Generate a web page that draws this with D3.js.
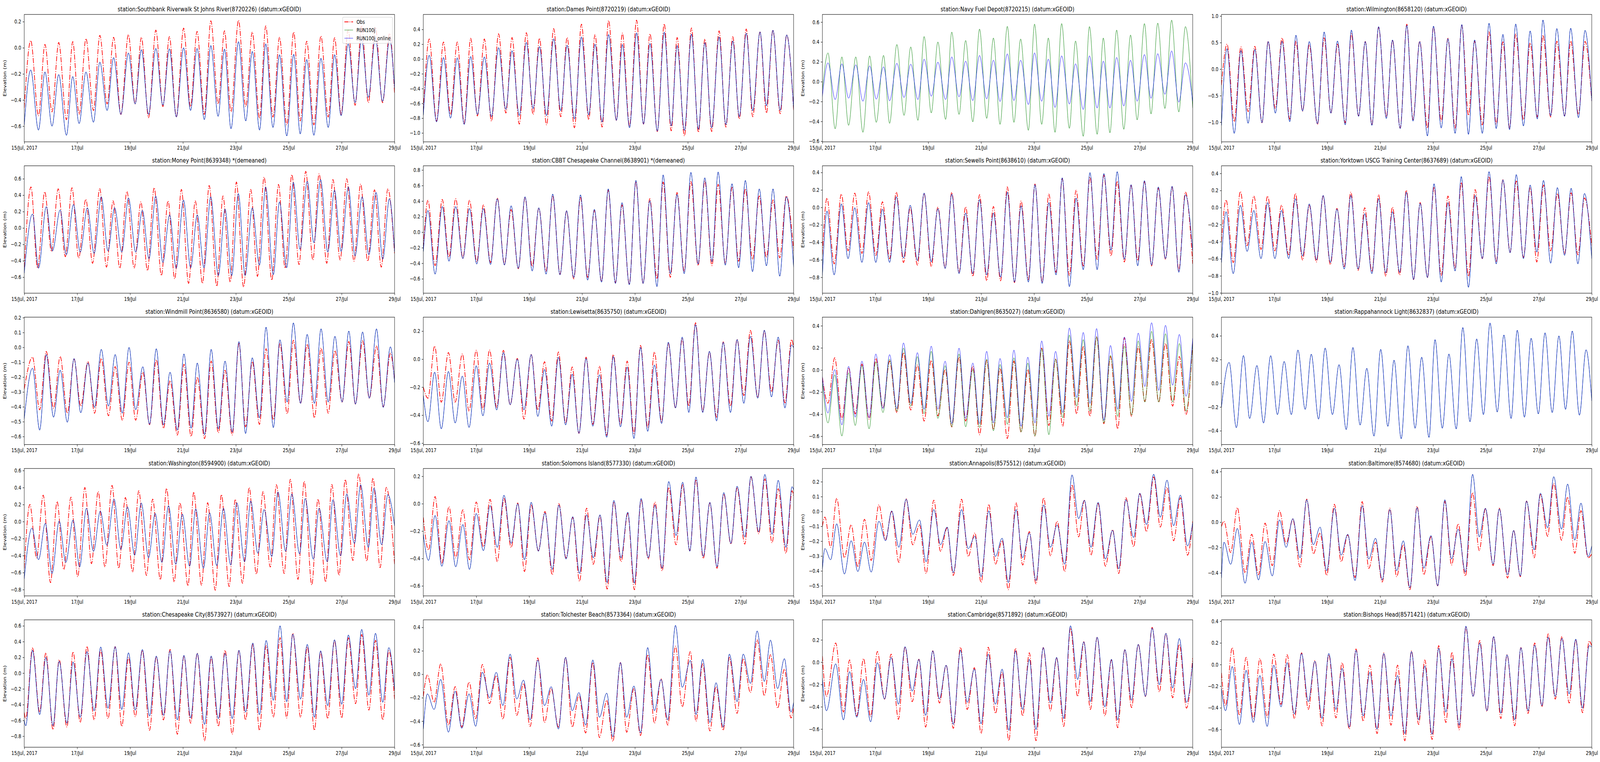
<!DOCTYPE html>
<html>
<head>
<meta charset="utf-8">
<title>Station elevation, 15-29 Jul 2017</title>
<script src="https://cdnjs.cloudflare.com/ajax/libs/d3/7.8.5/d3.min.js"></script>
<style>
  html, body { margin: 0; padding: 0; background: #fff; overflow: hidden; }
  svg { display: block; }
  text { font-family: "DejaVu Sans", sans-serif; }
</style>
</head>
<body>
<script>
var tSouthbank = [0,5.9,12.9,18.8,25.2,31.3,38.3,44.0,49.8,56.0,62.8,68.6,75.2,81.1,87.7,94.5,100.6,106.3,112.8,119.4,125.8,131.7,138.0,144.6,150.9,156.8,163.4,169.3,175.9,181.7,187.6,194.4,201.0,206.9,213.5,219.1,225.7,231.6,238.2,244.5,250.4,256.3,262.8,269.2,275.8,281.6,287.5,293.9,300.2,306.1,312.2,318.6,325.1,331.5,336];
var southbankObs = [-0.46,0.055,-0.52,0.025,-0.49,0.04,-0.55,0.047,-0.51,0.07,-0.48,0.095,-0.43,0.08,-0.51,0.10,-0.43,0.08,-0.535,0.135,-0.45,0.085,-0.53,0.15,-0.45,0.125,-0.51,0.206,-0.43,0.13,-0.49,0.21,-0.45,0.12,-0.54,0.167,-0.53,0.08,-0.59,0.12,-0.56,0.05,-0.59,0.09,-0.53,0.077,-0.51,0.137,-0.44,0.17,-0.42,0.157,-0.42,0.11,-0.35];
var southbankRun = [-0.59,-0.17,-0.63,-0.185,-0.60,-0.205,-0.67,-0.22,-0.58,-0.185,-0.57,-0.11,-0.48,-0.075,-0.51,-0.04,-0.43,-0.015,-0.51,-0.005,-0.44,-0.008,-0.53,0.0,-0.48,-0.005,-0.55,0.017,-0.525,-0.01,-0.62,0.047,-0.56,-0.028,-0.63,0.03,-0.61,-0.053,-0.675,-0.05,-0.66,-0.09,-0.67,-0.08,-0.61,-0.053,-0.52,0.03,-0.42,0.067,-0.38,0.077,-0.41,0.067,-0.31];

var tDames = [0,5.4,12.0,18.3,24.7,30.8,37.1,43.0,49.1,55.4,61.8,68.3,74.9,80.5,87.1,93.5,99.6,105.4,111.8,118.3,124.7,130.5,137.1,143.5,150.1,155.8,162.2,168.1,175.2,180.6,187.1,193.5,199.8,205.7,212.3,218.6,224.9,230.3,236.9,243.3,249.6,255.5,261.6,268.4,274.5,280.8,286.7,293.0,298.9,305.5,311.3,317.2,323.8,329.7,336];
var damesObs = [-0.71,0.27,-0.84,0.23,-0.75,0.23,-0.87,0.28,-0.77,0.27,-0.84,0.34,-0.73,0.29,-0.88,0.355,-0.75,0.28,-0.89,0.41,-0.78,0.29,-0.93,0.47,-0.82,0.33,-0.92,0.52,-0.83,0.35,-0.91,0.525,-0.88,0.34,-0.98,0.475,-0.97,0.29,-1.04,0.42,-0.99,0.27,-0.98,0.38,-0.92,0.30,-0.81,0.405,-0.78,0.365,-0.73,0.39,-0.74,0.325,-0.69];
var damesRun = [-0.76,0.05,-0.85,0.02,-0.80,0.015,-0.885,0.033,-0.75,0.028,-0.78,0.153,-0.68,0.112,-0.765,0.225,-0.67,0.168,-0.765,0.273,-0.70,0.186,-0.81,0.298,-0.756,0.20,-0.853,0.33,-0.83,0.196,-0.93,0.353,-0.88,0.209,-0.975,0.363,-0.905,0.182,-0.967,0.337,-0.95,0.221,-0.93,0.298,-0.888,0.244,-0.78,0.349,-0.70,0.367,-0.633,0.39,-0.695,0.326,-0.68];

var tNavy = [0,5.1,11.6,17.7,23.8,30.3,36.8,42.9,48.9,55.5,61.0,67.6,74.1,80.2,86.7,92.3,98.8,104.8,111.8,117.4,124.0,130.0,136.5,142.6,149.1,155.2,161.2,167.8,173.8,179.9,186.9,192.5,199.0,205.0,211.1,217.1,224.1,229.7,236.7,242.3,249.3,254.9,260.9,267.0,273.5,279.6,285.6,292.2,298.2,304.3,310.8,316.9,323.4,329.4,336];
var navyRun = [-0.09,0.29,-0.475,0.25,-0.44,0.25,-0.51,0.26,-0.41,0.265,-0.42,0.375,-0.34,0.35,-0.39,0.455,-0.315,0.40,-0.38,0.50,-0.33,0.415,-0.405,0.53,-0.37,0.44,-0.43,0.557,-0.41,0.43,-0.49,0.58,-0.43,0.44,-0.51,0.585,-0.47,0.41,-0.55,0.555,-0.53,0.44,-0.515,0.52,-0.48,0.47,-0.385,0.585,-0.325,0.59,-0.27,0.62,-0.305,0.555,-0.265];
var navyOnline = [-0.15,0.19,-0.18,0.18,-0.167,0.17,-0.197,0.16,-0.176,0.15,-0.193,0.185,-0.16,0.177,-0.18,0.227,-0.147,0.197,-0.18,0.25,-0.153,0.207,-0.19,0.264,-0.173,0.216,-0.20,0.28,-0.19,0.216,-0.23,0.29,-0.197,0.227,-0.26,0.26,-0.225,0.18,-0.28,0.26,-0.265,0.207,-0.265,0.244,-0.245,0.216,-0.197,0.273,-0.167,0.282,-0.127,0.31,-0.206,0.19,-0.2];

var tWilm = [0,5.1,11.6,17.7,24.2,30.3,36.8,42.4,48.9,55.0,62.0,67.6,73.6,79.7,87.1,93.2,99.3,105.3,112.3,117.9,124.4,130.5,136.5,142.6,149.6,155.2,162.2,168.2,173.8,179.9,186.9,192.4,199.4,205.5,212.0,218.1,224.1,229.7,236.7,242.8,249.3,255.4,261.4,267.0,274.0,280.1,286.6,291.7,298.7,304.3,311.3,316.9,323.9,329.9,336];
var wilmObs = [-0.3,0.47,-0.99,0.42,-0.80,0.43,-1.01,0.525,-0.74,0.59,-0.94,0.525,-0.79,0.46,-1.04,0.59,-0.83,0.47,-1.01,0.667,-0.88,0.52,-1.05,0.79,-0.90,0.545,-1.11,0.845,-0.95,0.525,-1.11,0.80,-0.98,0.58,-1.11,0.827,-0.87,0.525,-1.05,0.70,-1.03,0.515,-1.11,0.66,-0.95,0.495,-0.90,0.64,-0.90,0.525,-0.88,0.53,-0.85,0.52,-0.6];
var wilmRun = [-1.06,0.385,-1.21,0.35,-1.02,0.373,-1.01,0.52,-0.83,0.525,-0.99,0.64,-0.79,0.52,-1.03,0.70,-0.83,0.53,-1.05,0.736,-0.89,0.52,-1.06,0.80,-0.93,0.55,-1.12,0.827,-0.98,0.52,-1.26,0.81,-1.11,0.574,-1.21,0.84,-1.23,0.55,-1.21,0.864,-1.12,0.655,-1.14,0.85,-1.07,0.72,-0.94,0.925,-0.88,0.765,-0.89,0.77,-0.915,0.73,-0.6];

var tMoneyObs = [0,6.1,12.1,18.6,24.7,30.8,37.3,43.3,49.4,55.9,62.0,68.5,74.6,80.6,86.7,93.2,99.7,105.8,111.8,117.9,124.4,130.5,136.5,142.6,149.1,155.2,161.7,167.8,174.7,180.3,186.9,192.5,199.0,205.5,211.6,217.6,224.6,230.7,236.7,242.8,249.3,255.4,261.9,267.5,274.5,280.1,286.6,292.6,299.2,305.2,311.7,317.8,323.9,329.9,336];
var moneyObs = [-0.48,0.50,-0.49,0.44,-0.286,0.477,-0.35,0.49,-0.366,0.35,-0.43,0.48,-0.477,0.33,-0.49,0.445,-0.49,0.318,-0.52,0.49,-0.58,0.33,-0.62,0.47,-0.675,0.33,-0.675,0.517,-0.71,0.39,-0.66,0.56,-0.72,0.47,-0.59,0.62,-0.636,0.53,-0.49,0.65,-0.445,0.69,-0.39,0.66,-0.43,0.59,-0.39,0.60,-0.405,0.535,-0.405,0.465,-0.477,0.477,-0.31];
var tMoneyRun = [0,7.5,13.0,20.0,25.6,32.6,38.2,44.7,50.8,57.3,63.4,69.9,76.0,82.0,88.5,94.6,101.1,107.2,113.2,119.3,125.8,131.9,137.9,144.5,151.0,157.0,163.1,169.2,176.1,182.2,188.3,194.3,200.4,206.9,213.4,219.0,226.0,231.6,238.1,244.2,250.2,256.8,262.8,268.9,275.4,281.5,287.5,294.1,300.1,306.6,312.7,319.2,325.3,331.3,336];
var moneyRun = [-0.55,0.17,-0.49,0.26,-0.28,0.22,-0.326,0.286,-0.294,0.246,-0.31,0.38,-0.28,0.246,-0.294,0.366,-0.294,0.215,-0.374,0.39,-0.42,0.16,-0.49,0.34,-0.485,0.16,-0.485,0.38,-0.58,0.23,-0.58,0.42,-0.58,0.246,-0.453,0.50,-0.57,0.318,-0.485,0.556,-0.26,0.57,-0.18,0.59,-0.294,0.46,-0.286,0.50,-0.34,0.38,-0.326,0.434,-0.38,0.357,-0.29];

// lower bay stations share nearly the same tide times
var tBay = [0,4.2,10.7,17.2,23.3,29.4,35.9,41.9,48.5,54.5,61.0,67.1,73.6,79.7,86.2,92.3,98.8,104.8,111.4,117.4,124.0,130.0,136.5,142.6,149.1,155.2,161.7,167.8,174.3,180.3,186.9,192.9,199.4,205.5,212.0,217.6,224.1,230.2,236.7,242.8,249.3,255.4,261.9,267.5,274.0,280.1,286.1,292.2,298.7,304.8,311.3,317.3,323.4,329.4,336];
var cbbtObs = [-0.2,0.41,-0.43,0.42,-0.32,0.43,-0.33,0.41,-0.38,0.35,-0.39,0.44,-0.41,0.29,-0.47,0.445,-0.44,0.31,-0.50,0.47,-0.54,0.27,-0.60,0.445,-0.58,0.28,-0.634,0.54,-0.65,0.35,-0.67,0.65,-0.66,0.43,-0.60,0.645,-0.58,0.51,-0.50,0.65,-0.43,0.66,-0.43,0.615,-0.40,0.575,-0.374,0.557,-0.35,0.465,-0.324,0.414,-0.33,0.465,-0.24];
var cbbtRun = [-0.25,0.28,-0.54,0.33,-0.374,0.33,-0.34,0.305,-0.41,0.305,-0.416,0.43,-0.424,0.34,-0.466,0.456,-0.50,0.314,-0.54,0.49,-0.55,0.277,-0.584,0.48,-0.617,0.294,-0.643,0.557,-0.66,0.38,-0.676,0.666,-0.66,0.406,-0.70,0.737,-0.534,0.485,-0.534,0.77,-0.41,0.70,-0.38,0.775,-0.424,0.624,-0.458,0.666,-0.508,0.557,-0.433,0.557,-0.567,0.456,-0.45];
var sewellsObs = [-0.54,0.107,-0.646,0.152,-0.497,0.163,-0.527,0.178,-0.549,0.063,-0.587,0.175,-0.63,-0.004,-0.66,0.16,-0.676,0.003,-0.69,0.172,-0.743,0.006,-0.79,0.145,-0.84,0.01,-0.84,0.234,-0.86,0.073,-0.825,0.267,-0.855,0.152,-0.743,0.33,-0.78,0.197,-0.669,0.346,-0.594,0.368,-0.557,0.30,-0.624,0.25,-0.609,0.294,-0.669,0.22,-0.594,0.231,-0.72,0.175,-0.646];
var sewellsRun = [-0.78,-0.042,-0.773,0.04,-0.587,-0.004,-0.63,0.055,-0.63,-0.02,-0.63,0.122,-0.58,0.025,-0.609,0.164,-0.624,-0.016,-0.70,0.152,-0.758,-0.064,-0.758,0.09,-0.773,-0.064,-0.80,0.175,-0.855,0.018,-0.855,0.26,-0.87,0.055,-0.773,0.339,-0.907,0.107,-0.713,0.398,-0.713,0.387,-0.49,0.409,-0.594,0.26,-0.669,0.306,-0.66,0.234,-0.587,0.242,-0.743,0.145,-0.497];
var yorktownObs = [-0.4,0.089,-0.644,0.188,-0.446,0.134,-0.49,0.134,-0.507,0.027,-0.553,0.165,-0.614,0.027,-0.637,0.134,-0.667,-0.011,-0.69,0.18,-0.736,-0.003,-0.751,0.15,-0.805,0.005,-0.79,0.203,-0.843,0.058,-0.82,0.241,-0.797,0.134,-0.713,0.295,-0.805,0.21,-0.598,0.363,-0.637,0.325,-0.522,0.31,-0.583,0.234,-0.637,0.264,-0.507,0.165,-0.537,0.172,-0.553,0.111,-0.446];
var yorktownRun = [-0.644,-0.049,-0.774,0.027,-0.514,-0.034,-0.598,0.058,-0.598,-0.034,-0.598,0.104,-0.568,0.043,-0.614,0.142,-0.644,-0.018,-0.72,0.142,-0.72,-0.072,-0.774,0.104,-0.766,-0.049,-0.759,0.18,-0.843,0.05,-0.82,0.279,-0.873,0.058,-0.743,0.363,-0.934,0.142,-0.598,0.421,-0.66,0.325,-0.53,0.386,-0.598,0.264,-0.522,0.318,-0.652,0.234,-0.56,0.226,-0.66,0.165,-0.598];

var tWindmill = [0,7.5,14.0,20.0,26.6,32.6,39.1,45.2,51.3,57.8,63.8,69.9,76.4,82.5,89.0,95.1,101.1,107.6,113.7,119.8,126.3,132.3,138.9,144.9,151.4,157.0,163.6,169.6,176.1,182.2,188.7,194.8,200.8,206.9,213.4,219.4,226.0,232.0,238.6,244.2,250.7,256.7,263.3,269.3,275.8,281.9,288.4,294.5,300.5,307.0,313.1,319.6,325.7,332.2,336];
var windmillObs = [-0.28,-0.066,-0.42,-0.028,-0.41,-0.061,-0.443,-0.079,-0.395,-0.096,-0.443,-0.075,-0.46,-0.13,-0.49,-0.10,-0.49,-0.167,-0.52,-0.083,-0.544,-0.224,-0.59,-0.114,-0.60,-0.20,-0.614,-0.092,-0.575,-0.154,-0.59,0.026,-0.535,-0.096,-0.518,-0.009,-0.487,0.026,-0.447,0.048,-0.377,0.022,-0.474,-0.004,-0.443,-0.022,-0.368,0.039,-0.382,0.044,-0.342,0.009,-0.40,-0.04,-0.22];
var windmillRun = [-0.48,-0.14,-0.557,-0.048,-0.47,-0.153,-0.504,-0.075,-0.44,-0.105,-0.404,-0.013,-0.395,-0.048,-0.443,0.0,-0.42,-0.13,-0.518,-0.009,-0.522,-0.167,-0.557,-0.044,-0.544,-0.105,-0.588,-0.013,-0.548,-0.092,-0.57,0.039,-0.58,-0.07,-0.474,0.136,-0.54,0.051,-0.368,0.165,-0.377,0.088,-0.377,0.125,-0.368,0.075,-0.368,0.11,-0.382,0.104,-0.342,0.125,-0.404,0.004,-0.237];

var tLewisetta = [0,4.2,10.3,16.3,22.8,28.9,35.4,41.5,48.0,54.1,60.1,66.6,72.7,78.8,85.3,91.3,97.9,103.9,110.0,116.5,122.6,129.1,135.1,141.2,147.7,153.8,159.8,166.4,172.4,178.9,185.0,191.1,197.1,203.6,209.7,216.2,222.3,228.8,234.9,240.9,247.0,253.5,259.6,266.1,272.1,278.7,284.7,290.8,296.8,303.4,309.4,315.9,322.0,328.1,334.1,336];
var lewisettaObs = [-0.2,-0.279,0.093,-0.307,0.047,-0.307,0.037,-0.372,0.063,-0.358,0.065,-0.344,0.063,-0.326,0.005,-0.428,0.033,-0.363,-0.019,-0.442,0.051,-0.456,-0.056,-0.53,0.014,-0.465,-0.051,-0.544,0.033,-0.465,-0.014,-0.53,0.098,-0.488,0.051,-0.447,0.112,-0.349,0.144,-0.335,0.26,-0.372,0.051,-0.414,0.123,-0.335,0.14,-0.26,0.205,-0.274,0.20,-0.233,0.135,-0.312,0.14,0.08];
var lewisettaRun = [-0.26,-0.447,-0.093,-0.498,-0.088,-0.456,-0.121,-0.488,-0.047,-0.405,-0.028,-0.363,0.047,-0.326,0.0,-0.363,0.033,-0.409,-0.074,-0.479,0.014,-0.47,-0.107,-0.53,0.005,-0.479,-0.112,-0.558,0.019,-0.484,-0.056,-0.567,0.084,-0.516,-0.042,-0.46,0.121,-0.349,0.158,-0.381,0.247,-0.381,0.056,-0.442,0.121,-0.381,0.14,-0.316,0.163,-0.279,0.207,-0.27,0.158,-0.349,0.102,0.08];

var tDahlgren = [0,5.1,11.2,17.7,23.8,29.8,35.9,42.4,48.5,55.0,61.0,67.6,73.6,80.2,86.2,92.3,98.8,104.8,111.4,117.4,124.0,130.0,136.5,142.6,149.1,155.2,161.2,167.8,173.8,180.3,186.4,192.9,199.0,205.5,211.6,218.1,224.1,230.7,236.7,242.8,248.8,255.4,261.4,268.0,274.0,280.5,286.6,292.6,298.7,305.2,311.3,317.8,323.9,329.9,336];
var dahlgrenObs = [-0.067,-0.30,0.11,-0.445,0.02,-0.397,0.053,-0.445,0.104,-0.344,0.08,-0.386,0.157,-0.362,0.045,-0.462,0.086,-0.415,0.004,-0.515,0.116,-0.462,0.033,-0.586,0.086,-0.539,0.015,-0.62,0.08,-0.562,0.004,-0.598,0.198,-0.503,0.098,-0.51,0.263,-0.397,0.21,-0.42,0.30,-0.486,0.121,-0.533,0.292,-0.42,0.21,-0.285,0.275,-0.291,0.24,-0.327,0.121,-0.403,0.24];
var dahlgrenRun = [-0.1,-0.48,-0.044,-0.598,-0.026,-0.503,0.039,-0.533,0.074,-0.386,0.098,-0.374,0.198,-0.327,0.121,-0.397,0.169,-0.439,0.039,-0.515,0.145,-0.515,0.004,-0.521,0.098,-0.551,0.05,-0.492,0.11,-0.562,0.063,-0.598,0.192,-0.586,0.098,-0.433,0.316,-0.327,0.275,-0.374,0.30,-0.48,0.133,-0.42,0.216,-0.409,0.263,-0.291,0.35,-0.291,0.328,-0.291,0.24,-0.374,0.25];
var dahlgrenOnline = [-0.06,-0.39,0.004,-0.498,0.033,-0.427,0.08,-0.433,0.145,-0.35,0.139,-0.35,0.245,-0.303,0.157,-0.356,0.216,-0.356,0.08,-0.486,0.198,-0.439,0.063,-0.486,0.169,-0.48,0.104,-0.433,0.18,-0.51,0.116,-0.48,0.263,-0.42,0.169,-0.386,0.38,-0.25,0.34,-0.303,0.375,-0.456,0.222,-0.356,0.298,-0.285,0.334,-0.15,0.428,-0.185,0.404,-0.138,0.322,-0.238,0.287];

var tRappahannock = [0,7.0,13.5,20.0,25.6,32.2,38.2,44.7,50.8,56.9,63.4,69.4,76.0,81.5,88.1,94.1,100.7,106.7,113.2,119.3,125.8,131.9,138.4,144.5,151.0,156.6,163.1,169.2,175.7,181.7,188.3,193.8,200.4,206.4,213.0,219.0,225.5,231.6,237.7,243.7,250.2,256.3,262.8,268.4,274.9,281.0,287.5,293.6,300.1,306.2,312.2,318.3,324.8,330.8,336];
var rappahannockRun = [-0.2,0.176,-0.374,0.234,-0.297,0.15,-0.335,0.233,-0.264,0.184,-0.264,0.28,-0.22,0.245,-0.302,0.297,-0.264,0.157,-0.39,0.302,-0.352,0.126,-0.445,0.286,-0.363,0.195,-0.467,0.316,-0.379,0.22,-0.456,0.368,-0.379,0.247,-0.385,0.47,-0.324,0.374,-0.264,0.508,-0.242,0.407,-0.297,0.447,-0.286,0.379,-0.258,0.425,-0.247,0.399,-0.22,0.44,-0.269,0.282,-0.148];

var tWashObs = [0,5.1,11.2,17.2,23.8,29.8,35.9,42.4,48.5,55.0,61.0,67.1,73.2,79.7,85.7,91.8,98.3,103.9,110.9,116.5,123.5,129.1,136.1,141.2,148.6,153.8,160.8,166.4,173.3,178.9,185.9,191.5,198.0,204.1,210.6,216.7,223.2,228.8,235.8,241.4,248.4,254.0,260.9,266.5,273.5,279.1,285.6,291.2,298.2,303.4,310.8,316.4,322.9,328.5,336];
var washObs = [-0.55,0.2,-0.426,0.31,-0.718,0.236,-0.564,0.287,-0.649,0.40,-0.495,0.353,-0.534,0.425,-0.549,0.282,-0.595,0.363,-0.633,0.264,-0.684,0.39,-0.71,0.221,-0.756,0.347,-0.748,0.221,-0.807,0.317,-0.764,0.261,-0.725,0.40,-0.618,0.353,-0.534,0.433,-0.61,0.497,-0.68,0.474,-0.745,0.264,-0.71,0.436,-0.633,0.494,-0.457,0.563,-0.465,0.512,-0.541,0.402,-0.5];
var tWashRun = [0,7.0,13.0,19.1,25.2,31.7,37.7,44.3,50.3,56.4,62.9,69.0,75.0,81.5,87.6,93.7,100.2,106.2,112.8,118.8,124.9,130.9,137.5,143.5,150.0,155.6,162.6,168.2,174.7,180.8,187.3,192.9,199.9,205.5,212.0,217.6,224.6,230.2,237.2,242.8,249.8,254.9,262.3,267.5,274.9,280.1,287.0,292.6,299.6,305.2,312.2,317.3,324.3,329.9,336];
var washRun = [-0.672,-0.077,-0.449,-0.02,-0.61,0.006,-0.48,0.018,-0.534,0.156,-0.35,0.123,-0.28,0.264,-0.327,0.172,-0.396,0.218,-0.426,0.095,-0.48,0.187,-0.503,0.087,-0.526,0.149,-0.549,0.103,-0.518,0.156,-0.511,0.221,-0.472,0.241,-0.373,0.141,-0.411,0.348,-0.35,0.325,-0.38,0.271,-0.442,0.156,-0.472,0.256,-0.403,0.325,-0.258,0.433,-0.304,0.394,-0.273,0.317,-0.05];

var tSolomons = [0,4.7,10.7,16.8,23.3,29.4,35.9,41.9,48.0,54.5,60.6,67.1,73.2,79.7,85.7,91.8,97.9,104.4,110.4,117.0,123.0,129.5,135.6,141.7,148.2,154.2,160.3,166.8,172.9,179.4,185.5,191.5,197.6,204.1,210.2,216.7,222.7,229.3,235.3,241.8,247.4,254.0,260.0,266.5,272.6,279.1,284.7,291.7,297.3,304.3,309.9,316.4,322.0,329.0,334.6,336];
var solomonsObs = [-0.1,-0.338,0.052,-0.433,-0.022,-0.395,-0.045,-0.409,0.012,-0.314,0.031,-0.423,0.038,-0.319,0.005,-0.495,-0.01,-0.343,-0.057,-0.519,0.0,-0.395,-0.1,-0.566,-0.033,-0.442,-0.09,-0.623,0.014,-0.423,-0.071,-0.628,0.029,-0.404,0.012,-0.49,0.119,-0.30,0.138,-0.343,0.176,-0.40,0.005,-0.471,0.071,-0.295,0.114,-0.295,0.195,-0.219,0.181,-0.285,0.109,-0.362,0.095,0.052];
var solomonsRun = [-0.224,-0.414,-0.086,-0.457,-0.124,-0.461,-0.152,-0.48,-0.071,-0.343,-0.014,-0.319,0.062,-0.29,0.0,-0.409,0.01,-0.347,-0.067,-0.48,-0.01,-0.404,-0.095,-0.509,-0.081,-0.395,-0.081,-0.576,0.024,-0.395,-0.062,-0.58,0.038,-0.395,-0.01,-0.471,0.162,-0.233,0.157,-0.347,0.195,-0.385,0.01,-0.461,0.081,-0.29,0.128,-0.243,0.2,-0.205,0.214,-0.224,0.171,-0.319,0.124,0.1];

var tAnnapolis = [0,2.3,7.5,13.0,20.0,26.1,32.2,38.2,44.3,51.3,57.3,62.9,69.4,76.0,82.0,88.1,94.1,101.1,107.2,113.2,118.8,126.3,132.3,138.4,144.0,151.0,157.0,163.1,168.7,175.7,181.7,187.8,193.8,200.8,206.9,213.0,219.9,226.5,232.5,237.7,243.7,250.2,256.8,263.3,268.9,275.4,282.4,288.0,294.1,300.6,306.6,312.7,318.7,324.8,331.3,336];
var annapolisObs = [-0.10,-0.038,-0.241,0.088,-0.311,-0.09,-0.373,-0.053,-0.329,0.044,-0.189,0.0,-0.342,0.085,-0.224,-0.09,-0.417,0.076,-0.268,-0.11,-0.43,0.082,-0.303,-0.145,-0.478,0.048,-0.355,-0.196,-0.526,0.059,-0.36,-0.136,-0.487,0.092,-0.298,-0.066,-0.404,0.18,-0.171,0.075,-0.294,0.053,-0.368,-0.123,-0.417,0.092,-0.237,0.118,-0.136,0.232,-0.105,0.162,-0.197,0.092,-0.294,-0.066];
var annapolisRun = [-0.39,-0.25,-0.325,-0.083,-0.421,-0.197,-0.404,-0.206,-0.408,-0.066,-0.197,0.004,-0.241,0.083,-0.154,-0.057,-0.338,0.013,-0.224,-0.105,-0.412,0.013,-0.25,-0.167,-0.439,0.004,-0.303,-0.18,-0.478,0.013,-0.311,-0.145,-0.465,0.044,-0.241,-0.092,-0.355,0.246,-0.048,0.075,-0.241,0.061,-0.32,-0.127,-0.386,0.079,-0.175,0.123,-0.088,0.25,-0.039,0.211,-0.096,0.11,-0.232,-0.075];

var tBaltimore = [0,2.3,8.4,14.4,21.4,27.5,33.6,39.6,46.1,52.7,58.7,64.8,71.3,77.4,83.4,89.5,95.5,102.5,108.6,114.6,121.2,127.7,133.7,139.8,145.9,152.8,158.9,165.0,171.0,177.5,183.6,190.1,196.2,202.7,208.8,214.8,221.3,227.9,233.9,239.5,246.5,252.1,259.6,265.1,271.2,276.8,283.8,289.4,295.9,301.5,308.5,314.1,320.6,326.2,332.7,336];
var baltimoreObs = [-0.034,0.007,-0.24,0.115,-0.40,-0.096,-0.415,-0.008,-0.343,0.09,-0.168,0.023,-0.353,0.182,-0.25,-0.085,-0.42,0.141,-0.312,-0.10,-0.436,0.162,-0.364,-0.158,-0.472,0.11,-0.43,-0.178,-0.533,0.126,-0.415,-0.116,-0.503,0.164,-0.338,-0.013,-0.425,0.234,-0.224,0.105,-0.343,0.11,-0.441,-0.065,-0.43,0.167,-0.281,0.218,-0.111,0.306,-0.142,0.198,-0.245,0.09,-0.281,-0.25];
var baltimoreRun = [-0.44,-0.158,-0.333,-0.049,-0.482,-0.158,-0.456,-0.152,-0.425,0.018,-0.199,0.028,-0.281,0.177,-0.178,-0.039,-0.384,0.11,-0.26,-0.096,-0.461,0.131,-0.291,-0.127,-0.456,0.10,-0.384,-0.147,-0.518,0.115,-0.364,-0.106,-0.503,0.177,-0.291,-0.055,-0.394,0.378,-0.116,0.11,-0.333,0.105,-0.415,-0.065,-0.425,0.167,-0.219,0.229,-0.044,0.359,-0.055,0.301,-0.142,0.151,-0.271,-0.188];

var tChesCity = [0,1.4,7.5,14.0,19.6,26.1,31.7,38.7,44.3,50.8,56.9,63.4,69.4,76.0,82.5,88.5,94.6,100.7,107.2,113.7,119.8,126.3,132.3,138.9,144.9,151.0,157.0,163.6,169.6,176.1,182.2,188.7,194.8,200.8,207.4,213.4,219.5,226.0,232.1,238.1,243.7,250.7,256.8,263.3,268.9,275.4,281.5,288.0,294.1,300.6,306.2,312.7,318.7,325.3,330.8,336];
var chesCityObs = [-0.5,-0.577,0.319,-0.494,0.258,-0.717,0.17,-0.684,0.27,-0.626,0.34,-0.593,0.29,-0.577,0.336,-0.676,0.2,-0.552,0.29,-0.725,0.208,-0.593,0.30,-0.775,0.217,-0.635,0.253,-0.858,0.2,-0.676,0.29,-0.775,0.283,-0.593,0.365,-0.725,0.349,-0.56,0.45,-0.569,0.506,-0.56,0.332,-0.725,0.266,-0.577,0.415,-0.569,0.448,-0.387,0.489,-0.469,0.415,-0.593,0.283,-0.33];
var chesCityRun = [-0.6,-0.668,0.29,-0.527,0.2,-0.668,0.15,-0.635,0.142,-0.56,0.274,-0.478,0.332,-0.445,0.336,-0.461,0.258,-0.469,0.30,-0.544,0.217,-0.536,0.283,-0.593,0.225,-0.569,0.25,-0.651,0.217,-0.577,0.25,-0.577,0.29,-0.494,0.382,-0.527,0.415,-0.345,0.60,-0.362,0.494,-0.329,0.365,-0.56,0.283,-0.412,0.423,-0.395,0.484,-0.197,0.555,-0.279,0.506,-0.37,0.324,-0.21];

var tTolchester = [0,3.7,9.8,15.8,22.8,28.9,34.9,41.5,47.5,53.6,60.1,66.2,72.2,78.8,84.8,90.9,96.9,103.9,110.0,116.0,122.6,129.1,135.1,141.2,147.3,153.8,159.8,166.4,172.0,178.9,184.5,191.1,197.1,203.6,209.7,215.7,221.8,228.8,234.9,242.3,247.4,253.5,260.0,265.6,272.1,277.7,284.7,290.3,296.8,302.9,309.4,315.0,321.5,327.6,333.6,336];
var tolchesterObs = [-0.189,-0.006,-0.239,0.089,-0.433,-0.106,-0.45,-0.067,-0.378,0.083,-0.25,-0.011,-0.383,0.144,-0.35,-0.078,-0.444,0.139,-0.411,-0.122,-0.45,0.144,-0.45,-0.178,-0.50,0.10,-0.539,-0.222,-0.572,0.10,-0.494,-0.122,-0.522,0.167,-0.417,-0.039,-0.433,0.239,-0.278,0.194,-0.40,0.089,-0.483,-0.106,-0.478,0.144,-0.333,0.133,-0.156,0.294,-0.183,0.167,-0.289,0.044,-0.372,-0.278];
var tolchesterRun = [-0.467,-0.167,-0.30,-0.044,-0.494,-0.144,-0.461,-0.167,-0.444,0.017,-0.20,0.017,-0.267,0.172,-0.211,-0.05,-0.389,0.122,-0.267,-0.106,-0.467,0.144,-0.311,-0.156,-0.433,0.122,-0.367,-0.161,-0.533,0.10,-0.367,-0.10,-0.50,0.228,-0.311,-0.044,-0.389,0.417,-0.111,0.117,-0.344,0.128,-0.411,-0.072,-0.45,0.172,-0.233,0.172,-0.078,0.369,-0.061,0.291,-0.122,0.133,-0.322,-0.239];

var tCambridge = [0,3.7,12.1,19.1,24.7,31.2,37.3,43.8,49.9,56.4,62.4,69.0,75.0,81.5,87.6,93.7,100.2,106.2,112.3,118.8,125.3,131.4,137.9,144.0,150.5,157.0,163.1,169.2,175.2,181.7,187.8,193.8,200.4,206.9,212.5,219.0,225.1,231.6,237.2,243.2,249.3,256.3,262.3,267.9,274.5,280.5,286.6,293.1,299.2,305.7,311.7,317.8,323.9,330.4,336];
var cambridgeObs = [0.055,-0.307,0.172,-0.447,0.02,-0.482,0.032,-0.488,0.096,-0.331,0.072,-0.512,0.137,-0.354,0.026,-0.582,0.102,-0.366,-0.027,-0.593,0.134,-0.424,-0.05,-0.64,0.134,-0.459,-0.091,-0.704,0.125,-0.482,0.084,-0.704,0.131,-0.436,0.037,-0.576,0.306,-0.307,0.183,-0.424,0.224,-0.482,0.02,-0.588,0.113,-0.407,0.16,-0.307,0.312,-0.266,0.259,-0.319,0.16,-0.412,0.037];
var cambridgeRun = [-0.144,-0.436,-0.015,-0.518,-0.085,-0.494,-0.155,-0.535,-0.004,-0.331,0.043,-0.377,0.139,-0.26,0.026,-0.477,0.102,-0.331,-0.027,-0.558,0.107,-0.36,-0.062,-0.553,0.072,-0.377,-0.062,-0.611,0.102,-0.424,0.026,-0.605,0.131,-0.366,0.043,-0.506,0.327,-0.155,0.183,-0.354,0.224,-0.401,0.026,-0.518,0.113,-0.342,0.16,-0.307,0.306,-0.202,0.259,-0.231,0.213,-0.36,-0.004];

var tBishops = [0,3.7,9.8,16.3,22.4,28.9,34.9,41.5,47.5,54.1,59.6,66.2,72.7,78.8,84.8,91.3,97.4,103.9,109.5,116.0,122.1,128.6,134.7,141.2,147.3,153.8,159.8,166.4,172.4,178.9,184.5,191.1,197.1,203.6,209.2,215.7,221.8,228.3,234.4,240.9,247.0,253.5,259.1,266.1,271.7,278.2,284.2,290.8,296.4,302.9,308.9,315.5,321.5,327.6,333.6,336];
var bishopsObs = [-0.078,-0.379,0.156,-0.469,0.066,-0.499,0.054,-0.487,0.096,-0.367,0.09,-0.499,0.108,-0.415,0.036,-0.566,0.09,-0.493,0.018,-0.596,0.144,-0.523,-0.006,-0.638,0.108,-0.56,-0.006,-0.704,0.126,-0.554,0.042,-0.692,0.174,-0.535,0.114,-0.602,0.343,-0.295,0.222,-0.433,0.259,-0.499,0.09,-0.566,0.156,-0.451,0.199,-0.391,0.283,-0.319,0.259,-0.355,0.229,-0.445,0.217,0.174];
var bishopsRun = [-0.223,-0.427,-0.018,-0.554,-0.054,-0.535,-0.102,-0.572,-0.006,-0.391,0.018,-0.457,0.102,-0.343,0.03,-0.499,0.102,-0.415,-0.036,-0.578,0.132,-0.475,-0.072,-0.596,0.102,-0.475,-0.102,-0.638,0.12,-0.511,-0.012,-0.644,0.15,-0.439,0.054,-0.56,0.355,-0.295,0.199,-0.427,0.259,-0.451,0.09,-0.511,0.156,-0.427,0.18,-0.379,0.253,-0.295,0.241,-0.271,0.235,-0.403,0.174,0.162];

// y tick labels
var ticks6to2 = [-0.6,-0.4,-0.2,0.0,0.2];
var ticks10to4 = [-1.0,-0.8,-0.6,-0.4,-0.2,0.0,0.2,0.4];
var ticks6to6 = [-0.6,-0.4,-0.2,0.0,0.2,0.4,0.6];
var ticksHalf = [-1.0,-0.5,0.0,0.5,1.0];
var ticks6to8 = [-0.6,-0.4,-0.2,0.0,0.2,0.4,0.6,0.8];
var ticks8to4 = [-0.8,-0.6,-0.4,-0.2,0.0,0.2,0.4];
var ticksTenth6 = [-0.6,-0.5,-0.4,-0.3,-0.2,-0.1,0.0,0.1,0.2];
var ticks6to4 = [-0.6,-0.4,-0.2,0.0,0.2,0.4];
var ticks4to4 = [-0.4,-0.2,0.0,0.2,0.4];
var ticks8to6 = [-0.8,-0.6,-0.4,-0.2,0.0,0.2,0.4,0.6];
var ticksTenth5 = [-0.5,-0.4,-0.3,-0.2,-0.1,0.0,0.1,0.2];

var panels = [
  {title: "station:Southbank Riverwalk St Johns River(8720226) (datum:xGEOID)", obs: [tSouthbank, southbankObs], run: [tSouthbank, southbankRun], online: [tSouthbank, southbankRun], ylim: [-0.72, 0.255], ticks: ticks6to2},
  {title: "station:Dames Point(8720219) (datum:xGEOID)", obs: [tDames, damesObs], run: [tDames, damesRun], online: [tDames, damesRun], ylim: [-1.12, 0.602], ticks: ticks10to4},
  {title: "station:Navy Fuel Depot(8720215) (datum:xGEOID)", obs: null, run: [tNavy, navyRun], online: [tNavy, navyOnline], ylim: [-0.606, 0.677], ticks: ticks6to6},
  {title: "station:Wilmington(8658120) (datum:xGEOID)", obs: [tWilm, wilmObs], run: [tWilm, wilmRun], online: [tWilm, wilmRun], ylim: [-1.37, 1.03], ticks: ticksHalf},
  {title: "station:Money Point(8639348) *(demeaned)", obs: [tMoneyObs, moneyObs], run: [tMoneyRun, moneyRun], online: [tMoneyRun, moneyRun], ylim: [-0.795, 0.758], ticks: ticks6to6},
  {title: "station:CBBT Chesapeake Channel(8638901) *(demeaned)", obs: [tBay, cbbtObs], run: [tBay, cbbtRun], online: [tBay, cbbtRun], ylim: [-0.785, 0.854], ticks: ticks6to8},
  {title: "station:Sewells Point(8638610) (datum:xGEOID)", obs: [tBay, sewellsObs], run: [tBay, sewellsRun], online: [tBay, sewellsRun], ylim: [-0.982, 0.476], ticks: ticks8to4},
  {title: "station:Yorktown USCG Training Center(8637689) (datum:xGEOID)", obs: [tBay, yorktownObs], run: [tBay, yorktownRun], online: [tBay, yorktownRun], ylim: [-1.003, 0.489], ticks: ticks10to4},
  {title: "station:Windmill Point(8636580) (datum:xGEOID)", obs: [tWindmill, windmillObs], run: [tWindmill, windmillRun], online: [tWindmill, windmillRun], ylim: [-0.654, 0.2035], ticks: ticksTenth6},
  {title: "station:Lewisetta(8635750) (datum:xGEOID)", obs: [tLewisetta, lewisettaObs], run: [tLewisetta, lewisettaRun], online: [tLewisetta, lewisettaRun], ylim: [-0.61, 0.30], ticks: ticks6to2},
  {title: "station:Dahlgren(8635027) (datum:xGEOID)", obs: [tDahlgren, dahlgrenObs], run: [tDahlgren, dahlgrenRun], online: [tDahlgren, dahlgrenOnline], ylim: [-0.675, 0.478], ticks: ticks6to4},
  {title: "station:Rappahannock Light(8632837) (datum:xGEOID)", obs: null, run: [tRappahannock, rappahannockRun], online: [tRappahannock, rappahannockRun], ylim: [-0.516, 0.557], ticks: ticks4to4},
  {title: "station:Washington(8594900) (datum:xGEOID)", obs: [tWashObs, washObs], run: [tWashRun, washRun], online: [tWashRun, washRun], ylim: [-0.874, 0.624], ticks: ticks8to6},
  {title: "station:Solomons Island(8577330) (datum:xGEOID)", obs: [tSolomons, solomonsObs], run: [tSolomons, solomonsRun], online: [tSolomons, solomonsRun], ylim: [-0.673, 0.257], ticks: ticks6to2},
  {title: "station:Annapolis(8575512) (datum:xGEOID)", obs: [tAnnapolis, annapolisObs], run: [tAnnapolis, annapolisRun], online: [tAnnapolis, annapolisRun], ylim: [-0.568, 0.289], ticks: ticksTenth5},
  {title: "station:Baltimore(8574680) (datum:xGEOID)", obs: [tBaltimore, baltimoreObs], run: [tBaltimore, baltimoreRun], online: [tBaltimore, baltimoreRun], ylim: [-0.582, 0.424], ticks: ticks4to4},
  {title: "station:Chesapeake City(8573927) (datum:xGEOID)", obs: [tChesCity, chesCityObs], run: [tChesCity, chesCityRun], online: [tChesCity, chesCityRun], ylim: [-0.94, 0.676], ticks: ticks8to6},
  {title: "station:Tolchester Beach(8573364) (datum:xGEOID)", obs: [tTolchester, tolchesterObs], run: [tTolchester, tolchesterRun], online: [tTolchester, tolchesterRun], ylim: [-0.622, 0.464], ticks: ticks6to4},
  {title: "station:Cambridge(8571892) (datum:xGEOID)", obs: [tCambridge, cambridgeObs], run: [tCambridge, cambridgeRun], online: [tCambridge, cambridgeRun], ylim: [-0.763, 0.38], ticks: ticks6to2},
  {title: "station:Bishops Head(8571421) (datum:xGEOID)", obs: [tBishops, bishopsObs], run: [tBishops, bishopsRun], online: [tBishops, bishopsRun], ylim: [-0.764, 0.413], ticks: ticks6to4}
];

var W = 5150, H = 1950,
    colX = [78, 1362.5, 2647, 3931.5],
    rowY = [37, 424.3, 811.6, 1198.9, 1586.2],
    pw = 1192, ph = 326,
    t0 = Date.UTC(2017, 6, 15);

// the drawing is laid out in 5150x1950 units and stretched to whatever the window is
var svg = d3.select("body").append("svg")
    .attr("viewBox", "0 0 " + W + " " + H)
    .attr("preserveAspectRatio", "none")
    .style("width", "100vw")
    .style("height", "100vh");
svg.append("rect").attr("width", W).attr("height", H).attr("fill", "#fff");

var x = d3.scaleUtc()
    .domain([new Date(t0), new Date(t0 + 14 * 864e5)])
    .range([0, pw]);
var dayFmt = d3.utcFormat("%d/%b");

var series = [
  {key: "obs", label: "Obs", color: "#ff0000", width: 2.1, dash: "13.3,3.3,2.1,3.3"},
  {key: "run", label: "RUN100j", color: "#008000", width: 1.0, dash: null},
  {key: "online", label: "RUN100j_online", color: "#0000ff", width: 1.0, dash: null}
];

function toPoints(pair) {
  return d3.zip(pair[0], pair[1]).map(function(p) {
    return [new Date(t0 + p[0] * 36e5), p[1]];
  });
}

panels.forEach(function(p, i) {
  var col = i % 4, row = Math.floor(i / 4);
  var g = svg.append("g").attr("transform", "translate(" + colX[col] + "," + rowY[row] + ")");
  var y = d3.scaleLinear().domain(p.ylim).range([ph, 0]);

  g.append("clipPath").attr("id", "clip" + i)
    .append("rect").attr("width", pw).attr("height", ph);

  var line = d3.line()
      .x(function(d) { return x(d[0]); })
      .y(function(d) { return y(d[1]); })
      .curve(d3.curveMonotoneX);

  var plot = g.append("g").attr("clip-path", "url(#clip" + i + ")");
  series.forEach(function(s) {
    if (!p[s.key]) return;
    plot.append("path")
      .datum(toPoints(p[s.key]))
      .attr("d", line)
      .attr("fill", "none")
      .attr("stroke", s.color)
      .attr("stroke-width", s.width)
      .attr("stroke-dasharray", s.dash)
      .attr("stroke-linejoin", "round");
  });

  var xa = g.append("g")
      .attr("transform", "translate(0," + ph + ")")
      .call(d3.axisBottom(x)
        .ticks(d3.utcDay.every(2))
        .tickSize(4.9).tickPadding(4.9)
        .tickFormat(function(d) { return +d === t0 ? dayFmt(d) + ", 2017" : dayFmt(d); }));
  var ya = g.append("g")
      .call(d3.axisLeft(y)
        .tickValues(p.ticks)
        .tickFormat(d3.format(".1f"))
        .tickSize(4.9).tickPadding(4.9));
  [xa, ya].forEach(function(a) {
    a.select(".domain").remove();
    a.attr("font-size", 13.9).attr("font-family", "DejaVu Sans, sans-serif");
    a.selectAll(".tick line").attr("stroke", "#000").attr("stroke-width", 1.1);
    a.selectAll(".tick text").attr("fill", "#000");
  });

  g.append("rect")
    .attr("width", pw).attr("height", ph)
    .attr("fill", "none").attr("stroke", "#000").attr("stroke-width", 1.1);

  g.append("text")
    .attr("x", pw / 2).attr("y", -8.3)
    .attr("text-anchor", "middle")
    .attr("font-size", 16.7)
    .text(p.title);

  if (col === 0 || col === 2) {
    g.append("text")
      .attr("transform", "translate(-58," + (ph / 2) + ") rotate(-90)")
      .attr("text-anchor", "middle")
      .attr("font-size", 13.9)
      .text("Elevation (m)");
  }

  if (i === 0) {
    var lg = g.append("g");
    var box = lg.append("rect");
    var items = lg.selectAll("g.item").data(series).enter().append("g").attr("class", "item")
        .attr("transform", function(d, k) { return "translate(0," + (19 + k * 20.9) + ")"; });
    items.append("line")
      .attr("x1", 5.6).attr("x2", 33.4)
      .attr("stroke", function(d) { return d.color; })
      .attr("stroke-width", function(d) { return d.width; })
      .attr("stroke-dasharray", function(d) { return d.dash; });
    var labels = items.append("text")
      .attr("x", 44.5).attr("dy", "0.35em")
      .attr("font-size", 13.9)
      .text(function(d) { return d.label; });
    var tw = d3.max(labels.nodes(), function(n) { return n.getComputedTextLength(); });
    var bw = 44.5 + tw + 5.6;
    box.attr("x", 0).attr("y", 7).attr("width", bw).attr("height", 67)
      .attr("rx", 2.8)
      .attr("fill", "#fff").attr("fill-opacity", 0.8)
      .attr("stroke", "#cccccc").attr("stroke-width", 1.1);
    lg.attr("transform", "translate(" + (pw - 7 - bw) + ",0)");
  }
});
</script>
</body>
</html>
